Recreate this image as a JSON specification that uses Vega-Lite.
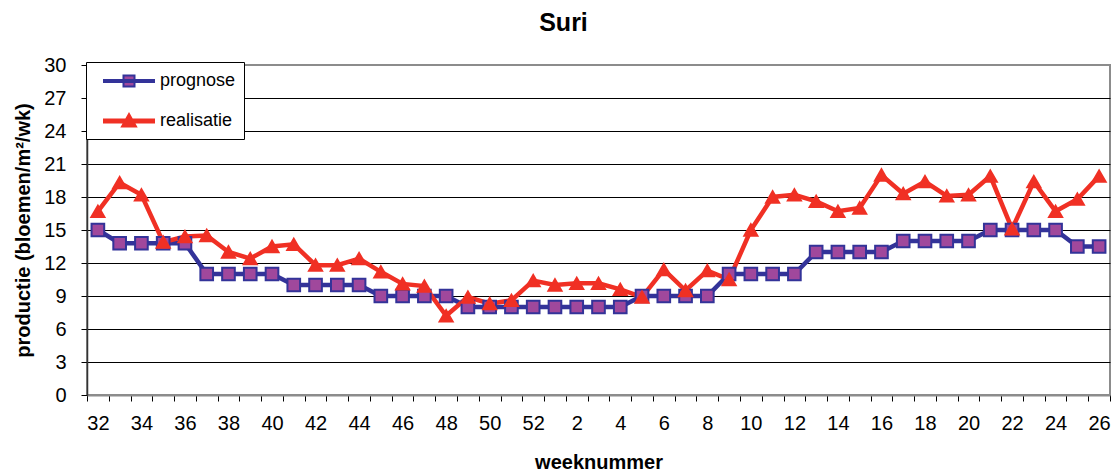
{
  "$schema": "https://vega.github.io/schema/vega-lite/v6.json",
  "autosize": {"type": "none"},
  "width": 1023,
  "height": 330,
  "padding": {"left": 87, "top": 65, "right": 6, "bottom": 81},
  "background": "white",
  "config": {
    "font": "Liberation Sans",
    "view": {"stroke": "#8c8c8c", "strokeWidth": 2},
    "legend": {
      "orient": "none",
      "legendX": -1,
      "legendY": -3,
      "fillColor": "white",
      "strokeColor": "#000",
      "padding": 8,
      "symbolSize": 400,
      "symbolOffset": 24,
      "symbolStrokeWidth": 2,
      "labelOffset": 20,
      "rowPadding": 19,
      "labelFontSize": 18,
      "labelColor": "#000",
      "labelFont": "Liberation Sans",
      "symbolOpacity": 1
    }
  },
  "title": {
    "text": "Suri",
    "fontSize": 25,
    "fontWeight": "bold",
    "font": "Liberation Sans",
    "color": "#000",
    "anchor": "middle",
    "offset": 19,
    "dx": -35
  },
  "data": {
    "values": [
      {"week": "32", "prognose": 15, "realisatie": 16.7},
      {"week": "33", "prognose": 13.8, "realisatie": 19.3},
      {"week": "34", "prognose": 13.8, "realisatie": 18.2},
      {"week": "35", "prognose": 13.8, "realisatie": 13.9},
      {"week": "36", "prognose": 13.8, "realisatie": 14.4},
      {"week": "37", "prognose": 11, "realisatie": 14.5},
      {"week": "38", "prognose": 11, "realisatie": 13.0},
      {"week": "39", "prognose": 11, "realisatie": 12.4},
      {"week": "40", "prognose": 11, "realisatie": 13.5},
      {"week": "41", "prognose": 10, "realisatie": 13.7},
      {"week": "42", "prognose": 10, "realisatie": 11.8},
      {"week": "43", "prognose": 10, "realisatie": 11.8},
      {"week": "44", "prognose": 10, "realisatie": 12.4},
      {"week": "45", "prognose": 9, "realisatie": 11.2},
      {"week": "46", "prognose": 9, "realisatie": 10.1},
      {"week": "47", "prognose": 9, "realisatie": 9.9},
      {"week": "48", "prognose": 9, "realisatie": 7.2},
      {"week": "49", "prognose": 8, "realisatie": 8.9},
      {"week": "50", "prognose": 8, "realisatie": 8.3},
      {"week": "51", "prognose": 8, "realisatie": 8.6},
      {"week": "52", "prognose": 8, "realisatie": 10.4},
      {"week": "1", "prognose": 8, "realisatie": 10.0},
      {"week": "2", "prognose": 8, "realisatie": 10.15},
      {"week": "3", "prognose": 8, "realisatie": 10.15},
      {"week": "4", "prognose": 8, "realisatie": 9.6},
      {"week": "5", "prognose": 9, "realisatie": 8.9},
      {"week": "6", "prognose": 9, "realisatie": 11.4},
      {"week": "7", "prognose": 9, "realisatie": 9.5},
      {"week": "8", "prognose": 9, "realisatie": 11.3},
      {"week": "9", "prognose": 11, "realisatie": 10.5},
      {"week": "10", "prognose": 11, "realisatie": 15.0},
      {"week": "11", "prognose": 11, "realisatie": 18.0},
      {"week": "12", "prognose": 11, "realisatie": 18.2},
      {"week": "13", "prognose": 13, "realisatie": 17.6},
      {"week": "14", "prognose": 13, "realisatie": 16.7},
      {"week": "15", "prognose": 13, "realisatie": 17.0},
      {"week": "16", "prognose": 13, "realisatie": 20.0},
      {"week": "17", "prognose": 14, "realisatie": 18.3},
      {"week": "18", "prognose": 14, "realisatie": 19.4},
      {"week": "19", "prognose": 14, "realisatie": 18.1},
      {"week": "20", "prognose": 14, "realisatie": 18.2},
      {"week": "21", "prognose": 15, "realisatie": 19.9},
      {"week": "22", "prognose": 15, "realisatie": 15.1},
      {"week": "23", "prognose": 15, "realisatie": 19.4},
      {"week": "24", "prognose": 15, "realisatie": 16.7},
      {"week": "25", "prognose": 13.5, "realisatie": 17.8},
      {"week": "26", "prognose": 13.5, "realisatie": 19.9}
    ]
  },
  "transform": [
    {"fold": ["prognose", "realisatie"], "as": ["reeks", "waarde"]}
  ],
  "encoding": {
    "x": {
      "field": "week",
      "type": "ordinal",
      "sort": null,
      "scale": {"type": "band", "paddingInner": 0, "paddingOuter": 0},
      "axis": {
        "title": "weeknummer",
        "titleFontSize": 20,
        "titleFontWeight": "bold",
        "titleColor": "#000",
        "titlePadding": 19,
        "labelAngle": 0,
        "labelFontSize": 20,
        "labelColor": "#000",
        "labelPadding": 12,
        "labelExpr": "round(datum.index * 46) % 2 == 0 ? datum.label : ''",
        "labelOverlap": false,
        "tickBand": "extent",
        "tickSize": 6,
        "tickColor": "#000",
        "tickWidth": 1,
        "domainColor": "#8c8c8c",
        "domainWidth": 2,
        "grid": false
      }
    },
    "y": {
      "field": "waarde",
      "type": "quantitative",
      "scale": {"domain": [0, 30], "nice": false},
      "axis": {
        "title": "productie (bloemen/m²/wk)",
        "titleFontSize": 20,
        "titleFontWeight": "bold",
        "titleColor": "#000",
        "titlePadding": 10,
        "values": [0, 3, 6, 9, 12, 15, 18, 21, 24, 27, 30],
        "labelFontSize": 20,
        "labelColor": "#000",
        "labelPadding": 15,
        "tickSize": 6,
        "tickColor": "#000",
        "domainColor": "#333",
        "domainWidth": 1.5,
        "grid": true,
        "gridColor": {"condition": {"test": "datum.value == 30 || datum.value == 0", "value": "#8c8c8c"}, "value": "#000"},
        "gridWidth": 1,
        "gridOpacity": 1
      }
    },
    "stroke": {
      "field": "reeks",
      "type": "nominal",
      "title": null,
      "scale": {"domain": ["prognose", "realisatie"], "range": ["#333399", "#F03024"]}
    }
  },
  "layer": [
    {
      "mark": {"type": "line", "strokeWidth": 4.5}
    },
    {
      "transform": [{"filter": "datum.reeks == 'prognose'"}],
      "mark": {"type": "point", "shape": "square", "filled": true, "size": 160, "opacity": 1, "strokeWidth": 2},
      "encoding": {
        "fill": {
          "field": "reeks",
          "type": "nominal",
          "title": null,
          "scale": {"domain": ["prognose", "realisatie"], "range": ["#A0489C", "#F03024"]}
        }
      }
    },
    {
      "transform": [{"filter": "datum.reeks == 'realisatie'"}],
      "mark": {"type": "point", "shape": "triangle-up", "filled": true, "size": 170, "opacity": 1, "strokeWidth": 2},
      "encoding": {
        "fill": {
          "field": "reeks",
          "type": "nominal",
          "title": null,
          "scale": {"domain": ["prognose", "realisatie"], "range": ["#A0489C", "#F03024"]}
        }
      }
    },
    {
      "transform": [{"filter": "datum.reeks == 'geen'"}],
      "mark": {"type": "point", "filled": true, "size": 160, "opacity": 1, "strokeWidth": 2},
      "encoding": {
        "fill": {
          "field": "reeks",
          "type": "nominal",
          "title": null,
          "scale": {"domain": ["prognose", "realisatie"], "range": ["#A0489C", "#F03024"]}
        },
        "shape": {
          "field": "reeks",
          "type": "nominal",
          "title": null,
          "scale": {"domain": ["prognose", "realisatie"], "range": ["M-2.5,-0.1H2.5V0.1H-2.5Z M-0.55,-0.55H0.55V0.55H-0.55Z", "M-2.5,-0.15H2.5V0.15H-2.5Z M0,-0.7L0.7,0.55H-0.7Z"]}
        }
      }
    }
  ]
}
